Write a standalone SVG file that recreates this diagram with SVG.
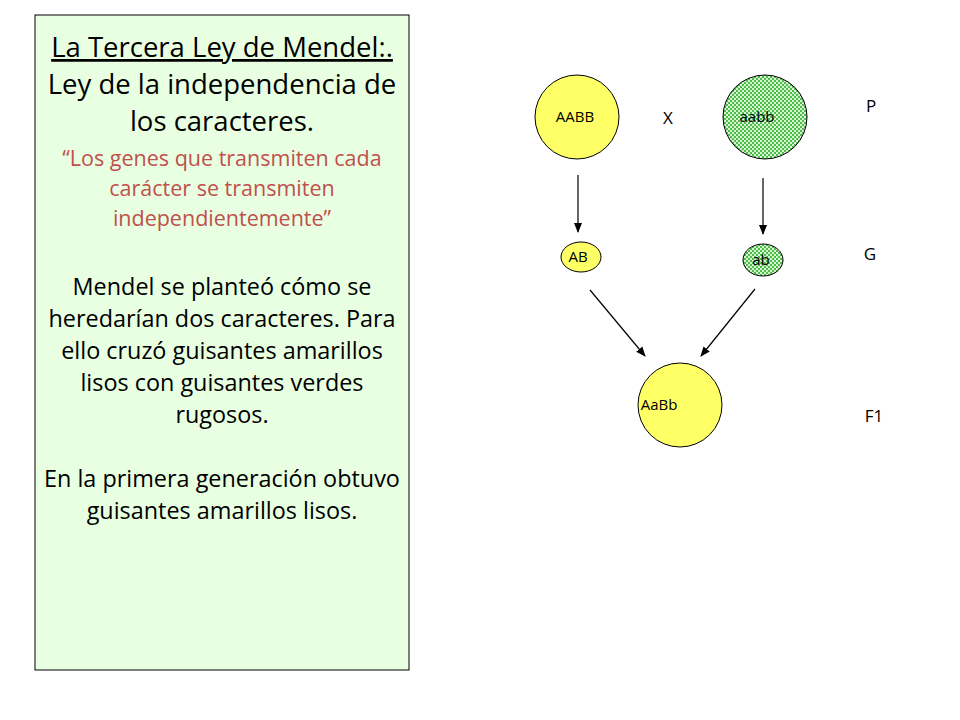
<svg xmlns="http://www.w3.org/2000/svg" width="960" height="720" viewBox="0 0 960 720">
<defs>
<pattern id="chk" width="4" height="4" patternUnits="userSpaceOnUse">
<rect width="4" height="4" fill="#4cbc4c"/>
<rect width="2" height="2" fill="#d8f5d0"/>
<rect x="2" y="2" width="2" height="2" fill="#d8f5d0"/>
</pattern>
<marker id="ah" markerWidth="10" markerHeight="10" refX="9" refY="5" orient="auto" markerUnits="userSpaceOnUse">
<path d="M0,1 L10,5 L0,9 Z" fill="#000"/>
</marker>
</defs>
<style>
text{font-family:"Open Sans","Liberation Sans",sans-serif;}
.t{font-size:23.4px;fill:#000;text-anchor:middle}
.h{font-size:27.5px;fill:#000;text-anchor:middle}
.r{font-size:21.5px;fill:#c0504d;text-anchor:middle}
.n{font-size:15px;fill:#000;text-anchor:middle}
.l{font-size:17px;fill:#000;text-anchor:middle}
.y{fill:#ffff66;stroke:#000;stroke-width:1}
.g{fill:url(#chk);stroke:#000;stroke-width:1}
.c line{stroke:#000;stroke-width:1.2;marker-end:url(#ah)}
</style>
<rect width="960" height="720" fill="#fff"/>
<g id="panel">
<rect x="35" y="15" width="374" height="655" fill="#e8ffe2" stroke="#000" stroke-width="1"/>
<text class="h" x="222" y="57" text-decoration="underline">La Tercera Ley de Mendel:.</text>
<text class="h" x="222" y="94">Ley de la independencia de</text>
<text class="h" x="222" y="131">los caracteres.</text>
<text class="r" x="222" y="166">“Los genes que transmiten cada</text>
<text class="r" x="222" y="196">carácter se transmiten</text>
<text class="r" x="222" y="226">independientemente”</text>
<text class="t" x="222" y="295">Mendel se planteó cómo se</text>
<text class="t" x="222" y="327">heredarían dos caracteres. Para</text>
<text class="t" x="222" y="359">ello cruzó guisantes amarillos</text>
<text class="t" x="222" y="391">lisos con guisantes verdes</text>
<text class="t" x="222" y="423">rugosos.</text>
<text class="t" x="222" y="487">En la primera generación obtuvo</text>
<text class="t" x="222" y="519">guisantes amarillos lisos.</text>
</g>
<g id="AABB"><circle class="y" cx="577" cy="117" r="42"/><text class="n" x="575" y="122">AABB</text></g>
<g id="aabb"><circle class="g" cx="765" cy="117" r="42"/><text class="n" x="757" y="122">aabb</text></g>
<g id="AB"><ellipse class="y" cx="581" cy="257" rx="20" ry="15"/><text class="n" x="578" y="262">AB</text></g>
<g id="ab"><ellipse class="g" cx="763" cy="260" rx="20" ry="16"/><text class="n" x="761" y="265">ab</text></g>
<g id="AaBb"><circle class="y" cx="680" cy="405" r="42"/><text class="n" x="659" y="410">AaBb</text></g>
<g id="labels">
<text class="l" x="668" y="124">X</text>
<text class="l" x="871" y="112">P</text>
<text class="l" x="870" y="260">G</text>
<text class="l" x="874" y="422">F1</text>
</g>
<g class="c" id="connectors">
<line x1="578" y1="175" x2="578" y2="232"/>
<line x1="763" y1="178" x2="763" y2="234"/>
<line x1="590" y1="290" x2="645" y2="356"/>
<line x1="755" y1="289" x2="701" y2="356"/>
</g>
</svg>
